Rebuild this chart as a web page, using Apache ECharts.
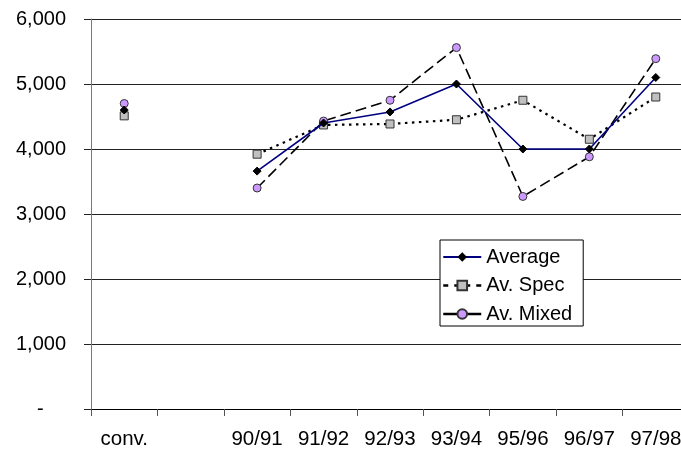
<!DOCTYPE html>
<html>
<head>
<meta charset="utf-8">
<script src="https://cdn.jsdelivr.net/npm/echarts@6/dist/echarts.min.js"></script>
<style>html,body{margin:0;padding:0;background:#fff;overflow:hidden;}#c{width:700px;height:450px;}</style>
</head>
<body>
<div id="c"></div>
<script>
const categories = ['conv.', '', '90/91', '91/92', '92/93', '93/94', '95/96', '96/97', '97/98'];
const average = [4600, null, 3660, 4400, 4570, 5000, 4000, 4000, 5100];
const avSpec = [4510, null, 3920, 4370, 4385, 4450, 4750, 4150, 4800];
const avMixed = [4700, null, 3400, 4430, 4750, 5560, 3270, 3880, 5390];
const yTicks = [0, 1000, 2000, 3000, 4000, 5000, 6000];

const font = 'Liberation Sans, Arial, sans-serif';
const chart = echarts.init(document.getElementById('c'), null, {renderer: 'canvas'});
chart.setOption({
  animation: false,
  backgroundColor: '#fff',
  grid: {left: 91, top: 19, width: 598, height: 391, containLabel: false},
  xAxis: {
    type: 'category',
    data: categories,
    boundaryGap: true,
    axisLine: {show: true, lineStyle: {color: '#000', width: 1}},
    axisTick: {show: true, length: 7, lineStyle: {color: '#555'}},
    axisLabel: {color: '#000', fontFamily: font, fontSize: 20.5, margin: 20, interval: 0},
    splitLine: {show: false}
  },
  yAxis: {
    type: 'value',
    min: yTicks[0],
    max: yTicks[yTicks.length - 1],
    interval: 1000,
    axisLine: {show: true, lineStyle: {color: '#777', width: 1}},
    axisTick: {show: true, length: 7, lineStyle: {color: '#222'}},
    axisLabel: {
      color: '#000', fontFamily: font, fontSize: 20, margin: 25,
      formatter: v => v === 0 ? '-    ' : v.toLocaleString('en-US')
    },
    splitLine: {show: true, lineStyle: {color: '#222', width: 1}}
  },
  legend: {
    orient: 'vertical',
    left: 440, top: 240,
    padding: [5, 11, 0, 2],
    backgroundColor: '#fff',
    borderColor: '#000', borderWidth: 1,
    itemWidth: 38, itemHeight: 12, itemGap: 4.5,
    textStyle: {color: '#000', fontFamily: font, fontSize: 20, lineHeight: 24},
    data: [
      {name: 'Average'},
      {name: 'Av. Spec', lineStyle: {type: [5, 6], width: 2.5}},
      {name: 'Av. Mixed', lineStyle: {type: 'solid', width: 2.5}}
    ]
  },
  series: [
    {
      name: 'Average', type: 'line', data: average, connectNulls: false,
      symbol: 'diamond', symbolSize: 8,
      lineStyle: {color: '#000080', width: 1.6},
      itemStyle: {color: '#000', borderColor: '#000'},
      z: 3
    },
    {
      name: 'Av. Spec', type: 'line', data: avSpec, connectNulls: false,
      symbol: 'rect', symbolSize: 8,
      lineStyle: {color: '#000', width: 2.2, type: [2.5, 4.5]},
      itemStyle: {color: '#c0c0c0', borderColor: '#333', borderWidth: 1},
      z: 2
    },
    {
      name: 'Av. Mixed', type: 'line', data: avMixed, connectNulls: false,
      symbol: 'circle', symbolSize: 8,
      lineStyle: {color: '#000', width: 1.6, type: [11, 5]},
      itemStyle: {color: '#cc99ff', borderColor: '#333', borderWidth: 1},
      z: 2
    }
  ]
});
</script>
</body>
</html>
